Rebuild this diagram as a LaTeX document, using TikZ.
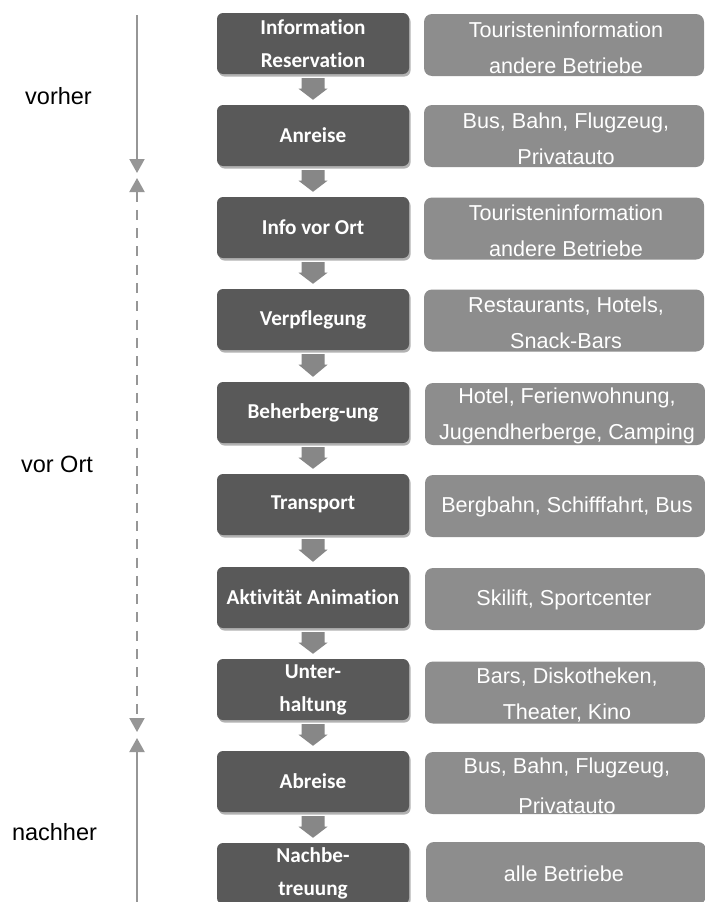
\documentclass[tikz,border=0pt]{standalone}
\usepackage{fontspec}
\setmainfont{Liberation Sans}
\newfontfamily\carlito{Carlito}[Ligatures=NoCommon]
\usetikzlibrary{arrows.meta,calc,shadows}

\definecolor{stepdark}{HTML}{595959}
\definecolor{steplight}{HTML}{8D8D8D}
\definecolor{flowgray}{HTML}{878787}
\definecolor{linegray}{HTML}{969696}

\tikzset{
  darkbox/.style={fill=stepdark, rounded corners=6pt, minimum width=192pt,
    minimum height=61pt, inner sep=0pt, text=white, align=center,
    font=\carlito\bfseries\fontsize{21.2}{33}\selectfont,
    drop shadow={shadow xshift=1.5pt, shadow yshift=-2.5pt, opacity=0.3, fill=black}},
  lightbox/.style={fill=steplight, rounded corners=8pt, minimum width=280pt,
    minimum height=62pt, inner sep=0pt, text=white, align=center,
    font=\fontsize{21.6}{36}\selectfont},
  lighttext/.style={text=white, align=center, inner sep=0pt,
    font=\fontsize{21.6}{36}\selectfont},
  phase/.style={anchor=base, font=\fontsize{23.5}{28}\selectfont, text=black},
  flow/.style={fill=flowgray},
  timeline/.style={draw=linegray, line width=2pt},
  tip/.tip={Triangle[width=15pt,length=14pt]}
}

\begin{document}
\begin{tikzpicture}[x=1pt,y=-1pt]
\fill[white] (0,0) rectangle (704,902);
\useasboundingbox (0,0) rectangle (704,902);

% main steps
\node[darkbox] (d1)  at (313,43.5)  {Information\\Reservation};
\node[darkbox] (d2)  at (313,135.5) {Anreise};
\node[darkbox] (d3)  at (313,227.5) {Info vor Ort};
\node[darkbox] (d4)  at (313,319.5) {Verpflegung};
\node[darkbox] (d5)  at (313,412.5) {Beherberg-ung};
\node[darkbox] (d6)  at (313,504.5) {Transport};
\node[darkbox] (d7)  at (313,597.5) {Aktivität Animation};
\node[darkbox] (d8)  at (313,689.5) {Unter-\\haltung};
\node[darkbox] (d9)  at (313,781.5) {Abreise};
\node[darkbox] (d10) at (313,873.5) {Nachbe-\\treuung};

% providers: boxes first, then their texts (text below a box vanishes on white)
\node[lightbox] (l1)  at (564,45)    {};
\node[lightbox] (l2)  at (564,136)   {};
\node[lightbox] (l3)  at (564,228.5) {};
\node[lightbox] (l4)  at (564,320.5) {};
\node[lightbox] (l5)  at (565,414)   {};
\node[lightbox] (l6)  at (565,506)   {};
\node[lightbox] (l7)  at (565,599)   {};
\node[lightbox] (l8)  at (565,692.5) {};
\node[lightbox] (l9)  at (565,783)   {};
\node[lightbox] (l10) at (566,873)   {};

\node[lighttext] at ($(l1)+(2,2.5)$)  {Touristeninformation\\andere Betriebe};
\node[lighttext] at ($(l2)+(2,2.5)$)  {Bus, Bahn, Flugzeug,\\Privatauto};
\node[lighttext] at ($(l3)+(2,2.5)$)  {Touristeninformation\\andere Betriebe};
\node[lighttext] at ($(l4)+(2,2.5)$)  {Restaurants, Hotels,\\Snack-Bars};
\node[lighttext] at ($(l5)+(2,2)$)    {Hotel, Ferienwohnung,\\Jugendherberge, Camping};
\node[lighttext] at ($(l6)+(2,1)$)    {Bergbahn, Schifffahrt, Bus};
\node[lighttext] at ($(l7)+(-1,1)$)   {Skilift, Sportcenter};
\node[lighttext] at ($(l8)+(2,2.5)$)  {Bars, Diskotheken,\\Theater, Kino};
\node[lighttext, font=\fontsize{21.6}{40}\selectfont] at ($(l9)+(2,2.5)$) {Bus, Bahn, Flugzeug,\\Privatauto};
\node[lighttext] at ($(l10)+(-2,1)$)  {alle Betriebe};

% block arrows between the steps
\foreach \i in {1,...,9}{
  \pgfmathtruncatemacro\j{\i+1}
  \fill[flow] ($(d\i.south)+(-11.5,4)$) -- ($(d\i.south)+(11.5,4)$)
    -- ($(d\i.south)+(11.5,14.5)$) -- ($(d\i.south)+(14.5,14.5)$)
    -- ($(d\j.north)+(0,-5)$)
    -- ($(d\i.south)+(-14.5,14.5)$) -- ($(d\i.south)+(-11.5,14.5)$) -- cycle;
}

% phase timeline
\coordinate (t0) at (137,15);
\coordinate (t1) at (137,173);
\coordinate (t2) at (137,178);
\coordinate (t3) at (137,732);
\coordinate (t4) at (137,738);
\coordinate (t5) at (137,905);
\draw[timeline, -{tip[fill=linegray]}] (t0) -- (t1);
\draw[timeline, dash pattern=on 10pt off 8.3pt, {tip[fill=linegray]}-{tip[fill=linegray]}] (t2) -- (t3);
\draw[timeline, {tip[fill=linegray]}-] (t4) -- (t5);

% phase names
\node[phase] (pv) at (58.5,104) {vorher};
\node[phase] (po) at (57,472.5) {vor Ort};
\node[phase] (pn) at (54.5,840) {nachher};
\end{tikzpicture}
\end{document}
